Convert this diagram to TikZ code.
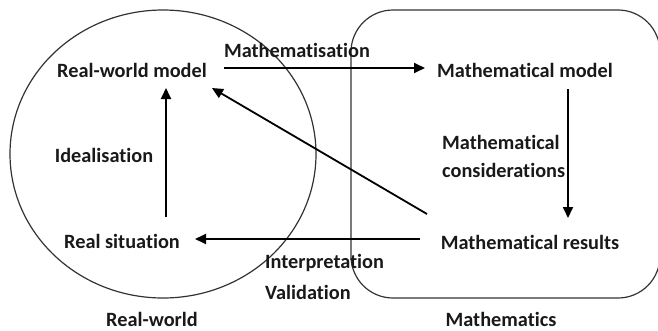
\documentclass[tikz,border=0pt]{standalone}
\usepackage{fontspec}
\setmainfont{Carlito}[Ligatures=NoCommon]
\usetikzlibrary{arrows.meta}
\begin{document}
\begin{tikzpicture}[x=1pt,y=-1pt,
  lbl/.style={font=\bfseries\fontsize{20.3}{24}\selectfont, inner sep=0pt, text=black!90},
  conn/.style={line width=1.8pt, -{Triangle[length=11pt,width=10pt]}},
  frame/.style={line width=1.2pt, draw=black!80}]
\useasboundingbox (0,0) rectangle (658,330);
\draw[frame] (163,154) ellipse [x radius=153, y radius=144];
\draw[frame, rounded corners=42pt] (351,10) rectangle (660,298);

\node[lbl] (rwm) at (132,70) {Real-world model};
\node[lbl] (mm) at (525,70) {Mathematical model};
\node[lbl] (mr) at (530,242) {Mathematical results};
\node[lbl] (rs) at (122,241) {Real situation};

\node[lbl] (mth) at (297,50) {Mathematisation};
\node[lbl] (ide) at (104,155) {Idealisation};
\node[lbl, anchor=west] (mc1) at (442,142) {Mathematical};
\node[lbl, anchor=west] (mc2) at (442,170) {considerations};
\node[lbl, anchor=west] (int) at (265,263) {Interpretation};
\node[lbl, anchor=west] (val) at (265,292) {Validation};
\node[lbl, anchor=base] (rw) at (152,326) {Real-world};
\node[lbl, anchor=base] (mat) at (501,326) {Mathematics};

\coordinate (a1s) at (224,68); \coordinate (a1e) at (425,68);
\coordinate (a2s) at (568,89); \coordinate (a2e) at (568,218);
\coordinate (a3s) at (420,239); \coordinate (a3e) at (195,239);
\coordinate (a4s) at (166,217); \coordinate (a4e) at (166,88);
\coordinate (a5s) at (427,214); \coordinate (a5e) at (212,88);

\draw[conn] (a1s) -- (a1e);
\draw[conn] (a2s) -- (a2e);
\draw[conn] (a3s) -- (a3e);
\draw[conn] (a4s) -- (a4e);
\draw[conn] (a5s) -- (a5e);
\end{tikzpicture}
\end{document}
